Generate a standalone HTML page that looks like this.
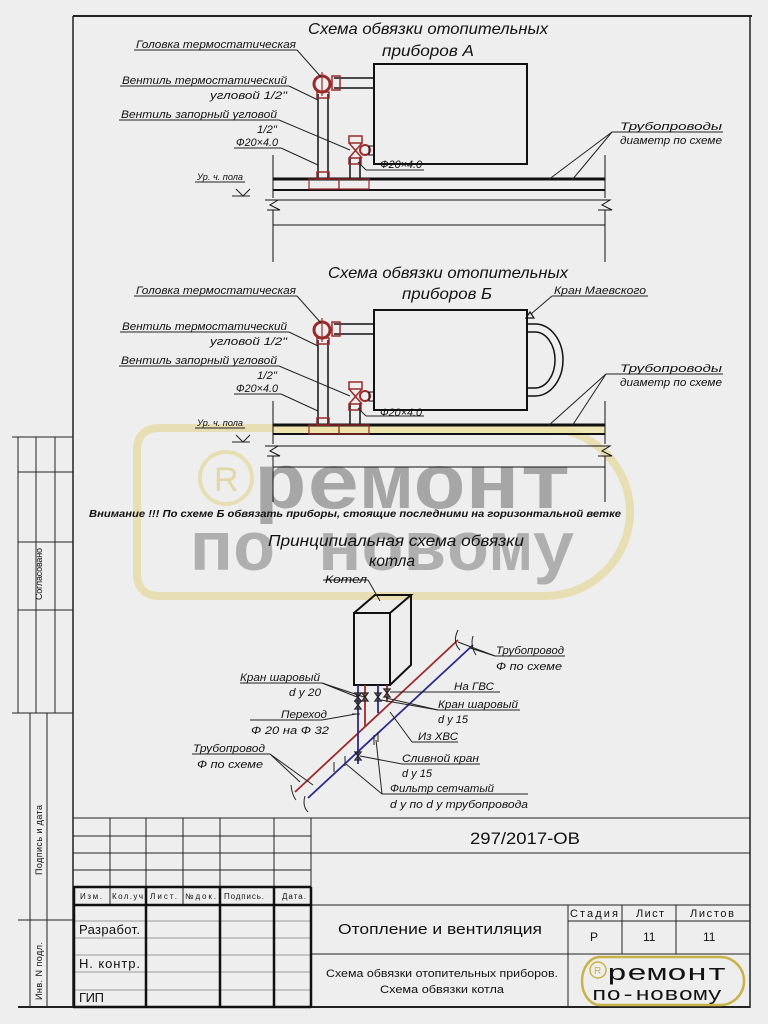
<!DOCTYPE html>
<html><head><meta charset="utf-8"><style>
html,body{margin:0;padding:0;background:#eeeeee;}
svg{display:block}
text{font-family:"Liberation Sans","DejaVu Sans",sans-serif;font-style:italic;fill:#111;}
.l{font-size:11px;}
.t{font-size:16px;}
.n{font-style:normal;}
</style></head><body>
<svg width="768" height="1024" viewBox="0 0 768 1024" xmlns="http://www.w3.org/2000/svg">
<rect width="768" height="1024" fill="#eeeeee"/>

<!-- watermark -->
<g opacity="0.75">
<path d="M160 428 H545 A85 84 0 0 1 545 596 H160 Q137 596 137 573 V451 Q137 428 160 428 Z" fill="none" stroke="#e6d9a0" stroke-width="8"/>
<circle cx="226" cy="478" r="26" fill="none" stroke="#e6d9a0" stroke-width="4"/>
<text x="214" y="491" class="n" style="font-size:34px;fill:#e0d090;font-family:'Liberation Sans',sans-serif">R</text>
<text x="254" y="508" class="n" textLength="318" lengthAdjust="spacingAndGlyphs" style="font-size:78px;font-weight:bold;fill:#8e8e8e;font-family:'Liberation Mono',monospace">ремонт</text>
<text x="190" y="570" class="n" textLength="385" lengthAdjust="spacingAndGlyphs" style="font-size:70px;font-weight:bold;fill:#9a9a9a;font-family:'Liberation Mono',monospace">по новому</text>
</g>

<!-- frame -->
<g stroke="#222" fill="none">
<line x1="73" y1="16" x2="752" y2="16" stroke-width="2"/>
<line x1="73" y1="16" x2="73" y2="1008" stroke-width="1.5"/>
<line x1="750" y1="16" x2="750" y2="1008" stroke-width="1.5"/>
<line x1="18" y1="1007" x2="750" y2="1007" stroke-width="2"/>
<line x1="12" y1="437" x2="73" y2="437"/>
<line x1="18" y1="437" x2="18" y2="713"/>
<line x1="36" y1="437" x2="36" y2="713"/>
<line x1="55" y1="437" x2="55" y2="713"/>
<line x1="18" y1="472" x2="73" y2="472"/>
<line x1="18" y1="542" x2="73" y2="542"/>
<line x1="18" y1="610" x2="73" y2="610"/>
<line x1="12" y1="713" x2="73" y2="713"/>
<line x1="30" y1="713" x2="30" y2="1007"/>
<line x1="47" y1="713" x2="47" y2="1007"/>
<line x1="18" y1="920" x2="73" y2="920"/>
</g>
<text transform="translate(42,600) rotate(-90)" class="l n" style="font-size:9px" textLength="52">Согласовано</text>
<text transform="translate(42,875) rotate(-90)" class="l n" style="font-size:9px" textLength="70">Подпись и дата</text>
<text transform="translate(42,1000) rotate(-90)" class="l n" style="font-size:9px" textLength="58">Инв. N подл.</text>

<!-- ===== Scheme A ===== -->
<g id="A">
<g fill="none" stroke="#111">
<rect x="374" y="64" width="153" height="100" stroke-width="2"/>
<line x1="334" y1="78" x2="374" y2="78" stroke-width="1.5"/>
<line x1="334" y1="88" x2="374" y2="88" stroke-width="1.5"/>
<line x1="318" y1="94" x2="318" y2="179" stroke-width="1.5"/>
<line x1="328" y1="94" x2="328" y2="179" stroke-width="1.5"/>
<line x1="350" y1="157" x2="350" y2="179" stroke-width="1.5"/>
<line x1="360" y1="157" x2="360" y2="179" stroke-width="1.5"/>
<line x1="273" y1="179" x2="605" y2="179" stroke-width="3"/>
<line x1="273" y1="190" x2="605" y2="190" stroke-width="2"/>
<line x1="278" y1="200" x2="600" y2="200" stroke-width="1"/>
<line x1="273" y1="225" x2="605" y2="225" stroke-width="1"/>
<line x1="273" y1="155" x2="273" y2="198" stroke-width="1"/>
<line x1="273" y1="210" x2="273" y2="262" stroke-width="1"/>
<line x1="605" y1="155" x2="605" y2="198" stroke-width="1"/>
<line x1="605" y1="210" x2="605" y2="262" stroke-width="1"/>
<polyline points="265,200 278,200 270,205 280,210 267,210" stroke-width="1"/>
<polyline points="598,200 610,200 602,205 612,210 598,210" stroke-width="1"/>
</g>
<g fill="none" stroke="#9b2a2a" stroke-width="2">
<circle cx="322" cy="84" r="8" stroke-width="3"/>
<line x1="322" y1="72" x2="322" y2="96" stroke-width="1.2"/>
<rect x="332" y="76" width="8" height="14" stroke-width="1.5"/>
<rect x="317" y="92" width="12" height="6" stroke-width="1.5"/>
<rect x="317" y="172" width="12" height="7" stroke-width="1.5"/>
<rect x="349" y="136" width="13" height="7" stroke-width="1.5"/>
<path d="M349 143 L362 158 M362 143 L349 158" stroke-width="1.5"/>
<circle cx="365" cy="150" r="5" stroke-width="2"/>
<rect x="349" y="158" width="12" height="6" stroke-width="1.5"/>
<rect x="309" y="179" width="30" height="10" stroke-width="1.2"/>
<rect x="339" y="179" width="30" height="10" stroke-width="1.2"/>
</g>
<rect x="369" y="146" width="5" height="9" fill="none" stroke="#111"/>
<g fill="none" stroke="#222" stroke-width="1">
<line x1="134" y1="50" x2="297" y2="50"/><line x1="297" y1="50" x2="321" y2="77"/>
<line x1="120" y1="86" x2="289" y2="86"/><line x1="289" y1="86" x2="318" y2="100"/>
<line x1="119" y1="120" x2="279" y2="120"/><line x1="279" y1="120" x2="350" y2="150"/>
<line x1="234" y1="148" x2="281" y2="148"/><line x1="281" y1="148" x2="318" y2="165"/>
<line x1="366" y1="170" x2="424" y2="170"/><line x1="366" y1="170" x2="358" y2="162"/>
<line x1="195" y1="182" x2="245" y2="182"/>
<polyline points="236,189 243,196 250,189"/><line x1="232" y1="196" x2="250" y2="196"/>
<line x1="612" y1="132" x2="723" y2="132"/><line x1="612" y1="132" x2="548" y2="180"/><line x1="612" y1="132" x2="572" y2="180"/>
</g>
<g class="l">
<text x="136" y="48" textLength="160" lengthAdjust="spacingAndGlyphs">Головка термостатическая</text>
<text x="122" y="84" textLength="165" lengthAdjust="spacingAndGlyphs">Вентиль термостатический</text>
<text x="210" y="99" textLength="77" lengthAdjust="spacingAndGlyphs">угловой  1/2"</text>
<text x="121" y="118" textLength="156" lengthAdjust="spacingAndGlyphs">Вентиль запорный угловой</text>
<text x="257" y="133" textLength="20" lengthAdjust="spacingAndGlyphs">1/2"</text>
<text x="236" y="146" textLength="42" lengthAdjust="spacingAndGlyphs">Ф20×4.0</text>
<text x="380" y="168" textLength="42" lengthAdjust="spacingAndGlyphs">Ф20×4.0</text>
<text x="197" y="180" style="font-size:9px" textLength="46" lengthAdjust="spacingAndGlyphs">Ур. ч. пола</text>
<text x="620" y="130" textLength="102" lengthAdjust="spacingAndGlyphs">Трубопроводы</text>
<text x="620" y="144" textLength="102" lengthAdjust="spacingAndGlyphs">диаметр по схеме</text>
</g>
</g>
<text x="308" y="34" class="t" textLength="240" lengthAdjust="spacingAndGlyphs">Схема обвязки отопительных</text>
<text x="382" y="56" class="t" textLength="92" lengthAdjust="spacingAndGlyphs">приборов А</text>

<!-- ===== Scheme B ===== -->
<rect x="273" y="425" width="332" height="10" fill="#efe4a8" opacity="0.8"/>
<g transform="translate(0,246)">
<g fill="none" stroke="#111">
<rect x="374" y="64" width="153" height="100" stroke-width="2"/>
<line x1="334" y1="78" x2="374" y2="78" stroke-width="1.5"/>
<line x1="334" y1="88" x2="374" y2="88" stroke-width="1.5"/>
<line x1="318" y1="94" x2="318" y2="179" stroke-width="1.5"/>
<line x1="328" y1="94" x2="328" y2="179" stroke-width="1.5"/>
<line x1="350" y1="157" x2="350" y2="179" stroke-width="1.5"/>
<line x1="360" y1="157" x2="360" y2="179" stroke-width="1.5"/>
<line x1="273" y1="179" x2="605" y2="179" stroke-width="3"/>
<line x1="273" y1="188" x2="605" y2="188" stroke-width="2"/>
<line x1="278" y1="200" x2="600" y2="200" stroke-width="1"/>
<line x1="273" y1="221" x2="605" y2="221" stroke-width="1"/>
<line x1="273" y1="155" x2="273" y2="198" stroke-width="1"/>
<line x1="273" y1="210" x2="273" y2="256" stroke-width="1"/>
<line x1="605" y1="155" x2="605" y2="198" stroke-width="1"/>
<line x1="605" y1="210" x2="605" y2="256" stroke-width="1"/>
<polyline points="265,200 278,200 270,205 280,210 267,210" stroke-width="1"/>
<polyline points="598,200 610,200 602,205 612,210 598,210" stroke-width="1"/>
<path d="M527 78 H535 A28 36 0 0 1 535 150 H527" stroke-width="1.5"/>
<path d="M527 86 H535 A20 28 0 0 1 535 142 H527" stroke-width="1.5"/>
<polygon points="526,72 530,66 534,72" stroke-width="1.2"/>
</g>
<g fill="none" stroke="#9b2a2a" stroke-width="2">
<circle cx="322" cy="84" r="8" stroke-width="3"/>
<line x1="322" y1="72" x2="322" y2="96" stroke-width="1.2"/>
<rect x="332" y="76" width="8" height="14" stroke-width="1.5"/>
<rect x="317" y="92" width="12" height="6" stroke-width="1.5"/>
<rect x="317" y="172" width="12" height="7" stroke-width="1.5"/>
<rect x="349" y="136" width="13" height="7" stroke-width="1.5"/>
<path d="M349 143 L362 158 M362 143 L349 158" stroke-width="1.5"/>
<circle cx="365" cy="150" r="5" stroke-width="2"/>
<rect x="349" y="158" width="12" height="6" stroke-width="1.5"/>
<rect x="309" y="179" width="30" height="9" stroke-width="1.2"/>
<rect x="339" y="179" width="30" height="9" stroke-width="1.2"/>
</g>
<rect x="369" y="146" width="5" height="9" fill="none" stroke="#111"/>
<g fill="none" stroke="#222" stroke-width="1">
<line x1="134" y1="50" x2="297" y2="50"/><line x1="297" y1="50" x2="321" y2="77"/>
<line x1="120" y1="86" x2="289" y2="86"/><line x1="289" y1="86" x2="318" y2="100"/>
<line x1="119" y1="120" x2="279" y2="120"/><line x1="279" y1="120" x2="350" y2="150"/>
<line x1="234" y1="148" x2="281" y2="148"/><line x1="281" y1="148" x2="318" y2="165"/>
<line x1="366" y1="170" x2="424" y2="170"/><line x1="366" y1="170" x2="358" y2="162"/>
<line x1="195" y1="182" x2="245" y2="182"/>
<polyline points="236,189 243,196 250,189"/><line x1="232" y1="196" x2="250" y2="196"/>
<line x1="606" y1="128" x2="723" y2="128"/><line x1="606" y1="128" x2="548" y2="180"/><line x1="606" y1="128" x2="572" y2="180"/>
<line x1="552" y1="50" x2="648" y2="50"/><line x1="552" y1="50" x2="531" y2="68"/>
</g>
<g class="l">
<text x="136" y="48" textLength="160" lengthAdjust="spacingAndGlyphs">Головка термостатическая</text>
<text x="122" y="84" textLength="165" lengthAdjust="spacingAndGlyphs">Вентиль термостатический</text>
<text x="210" y="99" textLength="77" lengthAdjust="spacingAndGlyphs">угловой  1/2"</text>
<text x="121" y="118" textLength="156" lengthAdjust="spacingAndGlyphs">Вентиль запорный угловой</text>
<text x="257" y="133" textLength="20" lengthAdjust="spacingAndGlyphs">1/2"</text>
<text x="236" y="146" textLength="42" lengthAdjust="spacingAndGlyphs">Ф20×4.0</text>
<text x="380" y="170" textLength="42" lengthAdjust="spacingAndGlyphs">Ф20×4.0</text>
<text x="197" y="180" style="font-size:9px" textLength="46" lengthAdjust="spacingAndGlyphs">Ур. ч. пола</text>
<text x="620" y="126" textLength="102" lengthAdjust="spacingAndGlyphs">Трубопроводы</text>
<text x="620" y="140" textLength="102" lengthAdjust="spacingAndGlyphs">диаметр по схеме</text>
<text x="554" y="48" textLength="92" lengthAdjust="spacingAndGlyphs">Кран Маевского</text>
</g>
</g>
<text x="328" y="278" class="t" textLength="240" lengthAdjust="spacingAndGlyphs">Схема обвязки отопительных</text>
<text x="402" y="299" class="t" textLength="90" lengthAdjust="spacingAndGlyphs">приборов Б</text>

<text x="89" y="517" class="l" style="font-size:10.5px;font-weight:bold" textLength="532" lengthAdjust="spacingAndGlyphs">Внимание !!!  По схеме Б обвязать приборы, стоящие последними на горизонтальной ветке</text>
<text x="268" y="546" class="t" textLength="256" lengthAdjust="spacingAndGlyphs">Принципиальная схема обвязки</text>
<text x="369" y="566" class="t" textLength="46" lengthAdjust="spacingAndGlyphs">котла</text>

<!-- ===== Boiler ===== -->
<g fill="none" stroke="#111" stroke-width="2">
<rect x="354" y="613" width="36" height="72"/>
<polyline points="354,613 375,595 411,595 390,613"/>
<polyline points="411,595 411,665 390,685"/>
</g>
<g fill="none" stroke-width="1.8">
<line x1="295" y1="792" x2="458" y2="640" stroke="#9b2a2a"/>
<line x1="308" y1="798" x2="473" y2="645" stroke="#2a2a8a"/>
<line x1="358" y1="685" x2="358" y2="764" stroke="#2a2a8a"/>
<line x1="365" y1="685" x2="365" y2="726" stroke="#9b2a2a"/>
<line x1="378" y1="685" x2="378" y2="713" stroke="#2a2a8a"/>
<line x1="387" y1="685" x2="387" y2="702" stroke="#9b2a2a"/>
</g>
<g fill="none" stroke="#222" stroke-width="1">
<path d="M458 630 Q452 642 460 650 M291 785 Q292 795 296 800"/>
<path d="M473 636 Q470 646 476 655 M305 796 Q302 806 308 812"/>
<g stroke-width="1.3">
<path d="M355 693 L361 693 L355 701 L361 701 Z"/>
<path d="M362 693 L368 693 L362 701 L368 701 Z"/>
<path d="M355 701 L361 701 L355 709 L361 709 Z"/>
<path d="M375 693 L381 693 L375 701 L381 701 Z"/>
<path d="M384 689 L390 689 L384 697 L390 697 Z"/>
<path d="M355 752 L361 752 L355 760 L361 760 Z"/>
</g>
<line x1="374" y1="735" x2="374" y2="745"/><line x1="378" y1="732" x2="378" y2="742"/>
<line x1="334" y1="762" x2="334" y2="772"/><line x1="345" y1="756" x2="345" y2="766"/>
<line x1="352" y1="714" x2="360" y2="714"/>
<line x1="323" y1="580" x2="368" y2="580"/><line x1="368" y1="580" x2="380" y2="601"/>
<line x1="240" y1="683" x2="322" y2="683"/><line x1="322" y1="683" x2="357" y2="697"/><line x1="322" y1="683" x2="364" y2="697"/>
<line x1="250" y1="720" x2="322" y2="720"/><line x1="322" y1="720" x2="356" y2="714"/>
<line x1="192" y1="754" x2="270" y2="754"/><line x1="270" y1="754" x2="300" y2="782"/><line x1="270" y1="754" x2="313" y2="785"/>
<line x1="495" y1="656" x2="565" y2="656"/><line x1="495" y1="656" x2="470" y2="648"/><line x1="495" y1="656" x2="458" y2="642"/>
<line x1="452" y1="692" x2="500" y2="692"/><line x1="452" y1="692" x2="390" y2="692"/>
<line x1="438" y1="710" x2="520" y2="710"/><line x1="438" y1="710" x2="381" y2="700"/><line x1="438" y1="710" x2="386" y2="698"/>
<line x1="412" y1="742" x2="458" y2="742"/><line x1="412" y1="742" x2="390" y2="712"/>
<line x1="402" y1="764" x2="480" y2="764"/><line x1="402" y1="764" x2="360" y2="756"/>
<line x1="382" y1="794" x2="528" y2="794"/><line x1="382" y1="794" x2="346" y2="764"/><line x1="382" y1="794" x2="376" y2="740"/>
</g>
<g class="l">
<text x="325" y="583" textLength="42" lengthAdjust="spacingAndGlyphs">Котел</text>
<text x="240" y="681" textLength="80" lengthAdjust="spacingAndGlyphs">Кран шаровый</text>
<text x="289" y="696" textLength="32" lengthAdjust="spacingAndGlyphs">d y 20</text>
<text x="281" y="718" textLength="46" lengthAdjust="spacingAndGlyphs">Переход</text>
<text x="251" y="734" textLength="78" lengthAdjust="spacingAndGlyphs">Ф 20  на  Ф 32</text>
<text x="193" y="752" textLength="72" lengthAdjust="spacingAndGlyphs">Трубопровод</text>
<text x="197" y="768" textLength="66" lengthAdjust="spacingAndGlyphs">Ф по схеме</text>
<text x="496" y="654" textLength="68" lengthAdjust="spacingAndGlyphs">Трубопровод</text>
<text x="496" y="670" textLength="66" lengthAdjust="spacingAndGlyphs">Ф по схеме</text>
<text x="454" y="690" textLength="40" lengthAdjust="spacingAndGlyphs">На ГВС</text>
<text x="438" y="708" textLength="80" lengthAdjust="spacingAndGlyphs">Кран шаровый</text>
<text x="438" y="723" textLength="30" lengthAdjust="spacingAndGlyphs">d y 15</text>
<text x="418" y="740" textLength="40" lengthAdjust="spacingAndGlyphs">Из ХВС</text>
<text x="402" y="762" textLength="77" lengthAdjust="spacingAndGlyphs">Сливной кран</text>
<text x="402" y="777" textLength="30" lengthAdjust="spacingAndGlyphs">d y 15</text>
<text x="390" y="792" textLength="104" lengthAdjust="spacingAndGlyphs">Фильтр сетчатый</text>
<text x="390" y="808" textLength="138" lengthAdjust="spacingAndGlyphs">d y  по  d y  трубопровода</text>
</g>

<!-- ===== Title block ===== -->
<g fill="none" stroke="#222" stroke-width="1">
<line x1="73" y1="818" x2="750" y2="818"/>
<line x1="73" y1="836" x2="311" y2="836"/>
<line x1="73" y1="853" x2="750" y2="853"/>
<line x1="73" y1="870" x2="311" y2="870"/>
<line x1="311" y1="905" x2="750" y2="905"/>
<line x1="568" y1="921" x2="750" y2="921"/>
<line x1="311" y1="954" x2="750" y2="954"/>
<line x1="311" y1="818" x2="311" y2="1007"/>
<line x1="568" y1="905" x2="568" y2="1007"/>
<line x1="622" y1="905" x2="622" y2="954"/>
<line x1="676" y1="905" x2="676" y2="954"/>
<line x1="110" y1="818" x2="110" y2="905"/>
<line x1="146" y1="818" x2="146" y2="887"/>
<line x1="183" y1="818" x2="183" y2="905"/>
<line x1="220" y1="818" x2="220" y2="887"/>
<line x1="274" y1="818" x2="274" y2="887"/>
<g stroke="#999">
<line x1="73" y1="921" x2="311" y2="921"/>
<line x1="73" y1="938" x2="311" y2="938"/>
<line x1="73" y1="955" x2="311" y2="955"/>
<line x1="73" y1="972" x2="311" y2="972"/>
<line x1="73" y1="990" x2="311" y2="990"/>
</g>
<g stroke="#111" stroke-width="2.5">
<line x1="73" y1="887" x2="311" y2="887"/>
<line x1="73" y1="905" x2="311" y2="905"/>
<line x1="73" y1="1007" x2="311" y2="1007"/>
<line x1="74" y1="887" x2="74" y2="1007"/>
<line x1="146" y1="887" x2="146" y2="1007"/>
<line x1="220" y1="887" x2="220" y2="1007"/>
<line x1="274" y1="887" x2="274" y2="1007"/>
<line x1="311" y1="887" x2="311" y2="1007"/>
</g>
</g>
<g class="n" style="font-size:8px">
<text x="80" y="899" class="n" style="font-size:8px" textLength="22">Изм.</text>
<text x="112" y="899" class="n" style="font-size:8px" textLength="31">Кол.уч</text>
<text x="150" y="899" class="n" style="font-size:8px" textLength="27">Лист.</text>
<text x="185" y="899" class="n" style="font-size:8px" textLength="31">№док.</text>
<text x="224" y="899" class="n" style="font-size:8px" textLength="40">Подпись.</text>
<text x="282" y="899" class="n" style="font-size:8px" textLength="24">Дата.</text>
</g>
<text x="79" y="934" class="n" style="font-size:13px" textLength="61">Разработ.</text>
<text x="79" y="968" class="n" style="font-size:13px" textLength="61">Н. контр.</text>
<text x="79" y="1002" class="n" style="font-size:13px" textLength="25">ГИП</text>
<text x="470" y="844" class="n" style="font-size:17px" textLength="110" lengthAdjust="spacingAndGlyphs">297/2017-ОВ</text>
<text x="338" y="934" class="n" style="font-size:15px" textLength="204" lengthAdjust="spacingAndGlyphs">Отопление и вентиляция</text>
<text x="326" y="977" class="n" style="font-size:11px" textLength="232" lengthAdjust="spacingAndGlyphs">Схема обвязки отопительных приборов.</text>
<text x="380" y="993" class="n" style="font-size:11px" textLength="124" lengthAdjust="spacingAndGlyphs">Схема обвязки котла</text>
<text x="570" y="917" class="n" style="font-size:11px" textLength="48">Стадия</text>
<text x="636" y="917" class="n" style="font-size:11px" textLength="28">Лист</text>
<text x="690" y="917" class="n" style="font-size:11px" textLength="44">Листов</text>
<text x="590" y="941" class="n" style="font-size:12px">Р</text>
<text x="643" y="941" class="n" style="font-size:12px">11</text>
<text x="703" y="941" class="n" style="font-size:12px">11</text>
<path d="M600 957 H720 A24 24 0 0 1 720 1005 H600 A18 24 0 0 1 600 957 Z" fill="none" stroke="#c9b247" stroke-width="2.5"/>
<circle cx="598" cy="970" r="8" fill="none" stroke="#c9b247" stroke-width="1.5"/>
<text x="594" y="974" class="n" style="font-size:10px;fill:#c9b247">R</text>
<text x="607" y="980" class="n" style="font-size:22px;font-family:'Liberation Mono',monospace;font-style:normal" textLength="120" lengthAdjust="spacingAndGlyphs">ремонт</text>
<text x="592" y="1000" class="n" style="font-size:18px;font-family:'Liberation Mono',monospace;font-style:normal" textLength="130" lengthAdjust="spacingAndGlyphs">по-новому</text>
</svg>
</body></html>
